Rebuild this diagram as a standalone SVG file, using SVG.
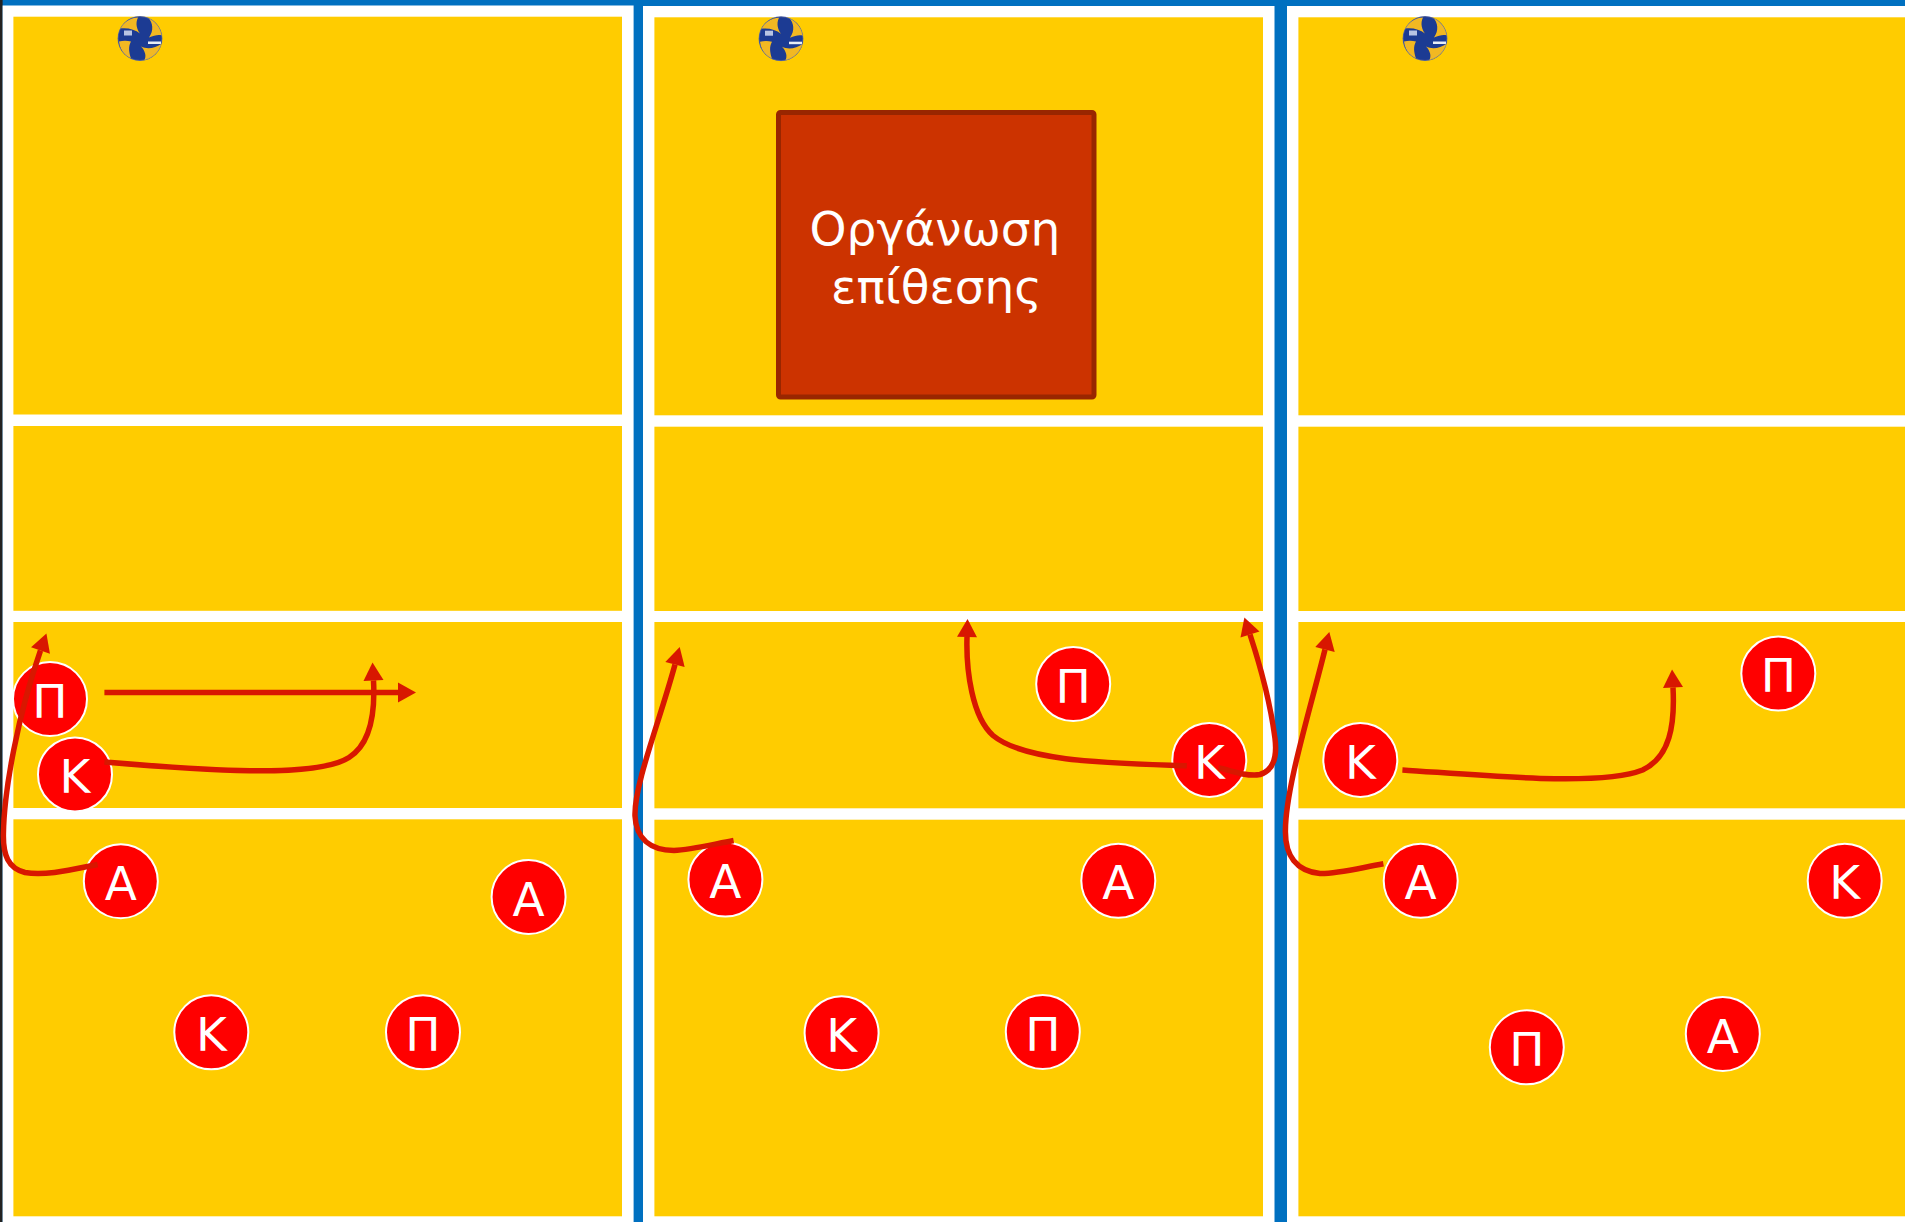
<svg xmlns="http://www.w3.org/2000/svg" xmlns:xlink="http://www.w3.org/1999/xlink" width="1905" height="1222" viewBox="0 0 1905 1222">
<style>
.court{fill:#ffcc00}
.panel{fill:#ffffff}
.p circle{fill:#ff0000;stroke:#ffffff;stroke-width:2}
.p text{font-family:"DejaVu Sans",sans-serif;font-size:47px;fill:#ffffff;text-anchor:middle}
.c{fill:none;stroke:#d81700;stroke-width:5.5}
.a{marker-end:url(#head)}
.title{font-family:"DejaVu Sans",sans-serif;font-size:47px;fill:#ffffff;text-anchor:middle}
</style>
<defs>
<marker id="head" markerUnits="userSpaceOnUse" markerWidth="20" markerHeight="22" refX="0" refY="10" orient="auto" overflow="visible">
<path d="M0 0 L18 10 L0 20 Z" fill="#d81700"/>
</marker>
<clipPath id="ballclip"><circle r="22.4"/></clipPath>
<filter id="soft" x="-10%" y="-10%" width="120%" height="120%"><feGaussianBlur stdDeviation="0.5"/></filter>
<g id="ball" filter="url(#soft)">
<g clip-path="url(#ballclip)">
<circle r="22.4" fill="#1f3a93"/>
<path fill="#f2b824" d="M-20-10 C-16-17 -9-21 -2-21 C-5-15 -3-9 0-5 C-5-9 -12-11 -20-10 Z"/>
<path fill="#f2b824" d="M8-21 C15-18 21-11 22-3 C18-4 14-3 9-1 C14-8 13-16 8-21 Z"/>
<path fill="#f2b824" d="M1 8 C7 11 15 10 22 5 C20 13 13 20 4 22 C7 18 5 12 1 8 Z"/>
<path fill="#f2b824" d="M-21 3 C-17 2 -13 2 -9 3 C-12 8 -11 14 -9 20 C-16 17 -20 11 -21 3 Z"/>
<rect x="-16" y="-8" width="8" height="5" fill="#b8c4e4"/>
<rect x="8" y="3" width="13" height="2.5" fill="#e8edf6"/>
</g>
<circle r="22" fill="none" stroke="#6c78a8" stroke-width="0.6"/>
</g>
</defs>
<rect width="1905" height="1222" fill="#0070c0"/>
<rect x="0" y="0" width="2.6" height="1222" fill="#222222"/>
<g id="panels">
<rect class="panel" x="2.6" y="5.5" width="631" height="1217"/>
<rect class="panel" x="643" y="6" width="631.5" height="1216"/>
<rect class="panel" x="1287" y="6" width="618" height="1216"/>
</g>
<g id="courts">
<rect class="court" x="13.4" y="16.7" width="608.6" height="397.8"/>
<rect class="court" x="13.4" y="426" width="608.6" height="184.8"/>
<rect class="court" x="13.4" y="622" width="608.6" height="186"/>
<rect class="court" x="13.4" y="819.3" width="608.6" height="397"/>
<rect class="court" x="654.4" y="17.3" width="608.6" height="398"/>
<rect class="court" x="654.4" y="426.7" width="608.6" height="184.3"/>
<rect class="court" x="654.4" y="622" width="608.6" height="186.3"/>
<rect class="court" x="654.4" y="819.7" width="608.6" height="396.6"/>
<rect class="court" x="1298.4" y="17.3" width="606.6" height="398"/>
<rect class="court" x="1298.4" y="426.7" width="606.6" height="184.3"/>
<rect class="court" x="1298.4" y="622" width="606.6" height="186.3"/>
<rect class="court" x="1298.4" y="819.7" width="606.6" height="396.6"/>
</g>
<g id="balls">
<use href="#ball" xlink:href="#ball" x="140" y="38.5"/>
<use href="#ball" xlink:href="#ball" x="781" y="38.7"/>
<use href="#ball" xlink:href="#ball" x="1425" y="38.5"/>
</g>
<g id="box">
<rect x="778.5" y="112.5" width="315.5" height="284.5" rx="2" fill="#cc3300" stroke="#992600" stroke-width="5"/>
<text class="title" x="935" y="245">Οργάνωση</text>
<text class="title" x="936.5" y="302.7">επίθεσης</text>
</g>
<g id="p1-pi-a" class="p"><circle cx="50" cy="699" r="37"/><text x="50" y="717.6">Π</text></g>
<g id="p1-k-a" class="p"><circle cx="75" cy="774.4" r="37"/><text x="75" y="793">Κ</text></g>
<g id="p1-a-a" class="p"><circle cx="120.8" cy="881.2" r="37"/><text x="120.8" y="899.8">Α</text></g>
<g id="p1-a-b" class="p"><circle cx="528.6" cy="897" r="37"/><text x="528.6" y="915.6">Α</text></g>
<g id="p1-k-b" class="p"><circle cx="211.3" cy="1032.3" r="37"/><text x="211.3" y="1050.9">Κ</text></g>
<g id="p1-pi-b" class="p"><circle cx="423" cy="1032.3" r="37"/><text x="423" y="1050.9">Π</text></g>
<g id="p2-pi-a" class="p"><circle cx="1073.2" cy="684.1" r="37"/><text x="1073.2" y="702.7">Π</text></g>
<g id="p2-k-a" class="p"><circle cx="1209.3" cy="759.9" r="37"/><text x="1209.3" y="778.5">Κ</text></g>
<g id="p2-a-a" class="p"><circle cx="725.4" cy="879.6" r="37"/><text x="725.4" y="898.2">Α</text></g>
<g id="p2-a-b" class="p"><circle cx="1118.3" cy="880.8" r="37"/><text x="1118.3" y="899.4">Α</text></g>
<g id="p2-k-b" class="p"><circle cx="841.6" cy="1033.2" r="37"/><text x="841.6" y="1051.8">Κ</text></g>
<g id="p2-pi-b" class="p"><circle cx="1042.8" cy="1032" r="37"/><text x="1042.8" y="1050.6">Π</text></g>
<g id="p3-pi-a" class="p"><circle cx="1778.3" cy="673.6" r="37"/><text x="1778.3" y="692.2">Π</text></g>
<g id="p3-k-a" class="p"><circle cx="1360.3" cy="759.9" r="37"/><text x="1360.3" y="778.5">Κ</text></g>
<g id="p3-a-a" class="p"><circle cx="1420.7" cy="880.8" r="37"/><text x="1420.7" y="899.4">Α</text></g>
<g id="p3-k-b" class="p"><circle cx="1844.7" cy="880.8" r="37"/><text x="1844.7" y="899.4">Κ</text></g>
<g id="p3-pi-b" class="p"><circle cx="1526.8" cy="1047.3" r="37"/><text x="1526.8" y="1065.9">Π</text></g>
<g id="p3-a-b" class="p"><circle cx="1722.8" cy="1034" r="37"/><text x="1722.8" y="1052.6">Α</text></g>
<g id="connectors">
<path class="c a" d="M104.4 692.4 H398"/>
<path class="c a" d="M104.4 762 C200 770 315 779 349 757.5 C372 743 375 708 373.5 680.5"/>
<path class="c a" d="M97.6 864.5 C70 870 45 876 25 872.5 C8 868 3 855 3.4 834 C4 790 18 715 40.5 650.5"/>
<path class="c a" d="M733.6 840.5 C710 845 690 850 674 850.5 C650 850 636 838 635 816 C634 785 660 720 675 664.5"/>
<path class="c a" d="M1186.8 765.8 C1110 763 1025 762 993 735.5 C972 717 966 670 967 637"/>
<path class="c a" d="M1218.4 767.8 C1230 770 1245 777 1260 774.5 C1275 770 1277 755 1275 738.5 C1270 700 1260 665 1250 634.5"/>
<path class="c a" d="M1402.4 769.9 C1480 775 1600 787 1642.6 770 C1670 757 1675 725 1673 687.5"/>
<path class="c a" d="M1383.4 863.8 C1355 869 1335 874 1320 873.5 C1296 871 1285.4 855 1285.4 832 C1285 790 1310 710 1325 649.5"/>
</g>
</svg>
